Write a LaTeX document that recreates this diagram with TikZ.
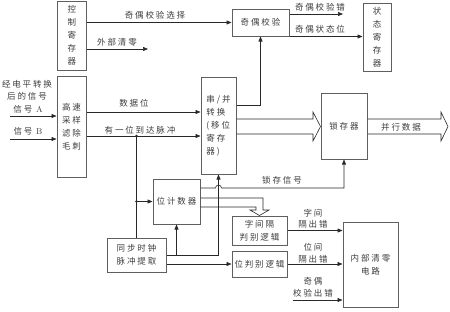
\documentclass[tikz,border=0pt]{standalone}
\usepackage{fontspec}
\newfontfamily\cjk[LetterSpace=22]{Noto Sans CJK SC}
\usepackage{tikz}
\usetikzlibrary{arrows.meta, calc}
\definecolor{boxgray}{RGB}{95, 95, 95}
\definecolor{linegray}{RGB}{40, 40, 40}
\definecolor{textgray}{RGB}{60, 60, 60}
\tikzset{
    blockbox/.style={draw=boxgray, line width=1pt, inner sep=0pt, align=center,
        text=textgray, font=\cjk\fontsize{8.5}{13}\selectfont},
    labeltext/.style={inner sep=0pt, align=center, text=textgray,
        font=\cjk\fontsize{8.5}{11.5}\selectfont},
    conn/.style={draw=linegray, line width=0.6pt},
    arr/.style={conn, -{Triangle[length=5pt,width=4pt]}},
    busline/.style={draw=linegray, line width=0.6pt, line join=miter},
}

\begin{document}
\begin{tikzpicture}[x=1pt, y=-1pt]
    \useasboundingbox (0,0) rectangle (450,311);

    % blocks
    \node[blockbox, minimum width=28.5pt, minimum height=69.5pt] (ctrl) at (71.75,35.75) {控\\制\\寄\\存\\器};
    \node[blockbox, minimum width=28pt, minimum height=68pt] (status) at (377,37) {状\\态\\寄\\存\\器};
    \node[blockbox, minimum width=57pt, minimum height=27pt] (parity) at (260.5,22.5) {奇偶校验};
    \node[blockbox, minimum width=29pt, minimum height=101pt] (filter) at (71.5,126.5) {高速\\采样\\滤除\\毛刺};
    \node[blockbox, minimum width=35pt, minimum height=97pt, align=left] (sp) at (218.5,125.5) {串/并\\转换\\(移位\\寄存\\器)};
    \node[blockbox, minimum width=46pt, minimum height=66pt] (latch) at (344,126) {锁存器};
    \node[blockbox, minimum width=47pt, minimum height=45pt] (counter) at (176.5,201.5) {位计数器};
    \node[blockbox, minimum width=59pt, minimum height=34pt] (sync) at (136.5,255) {同步时钟\\脉冲提取};
    \node[blockbox, minimum width=55pt, minimum height=29pt] (wordgap) at (259.5,230.5) {字间隔\\判别逻辑};
    \node[blockbox, minimum width=55pt, minimum height=26pt] (bitlogic) at (259.5,264) {位判别逻辑};
    \node[blockbox, minimum width=55pt, minimum height=85pt] (clear) at (370.5,264.5) {内部清零\\电路};

    % free ends
    \coordinate (ina) at (10,116);
    \coordinate (inb) at (10,139);
    \coordinate (extclr) at (148,49);
    \coordinate (perr) at (343,14);
    \coordinate (pchk) at (293,300);

    % top part
    \draw[arr] (ctrl.east |- parity.west) -- (parity.west);
    \draw[arr] (ctrl.east |- extclr) -- (extclr);
    \draw[arr] (parity.east |- perr) -- (perr);
    \draw[arr] (parity.south east) -- (parity.south east -| status.west);
    \draw[arr] (sp.east |- 0,105) -- (parity.south |- 0,105) -- (parity.south);

    % inputs
    \draw[arr] (ina) -- (ina -| filter.west);
    \draw[arr] (inb) -- (inb -| filter.west);
    \draw[arr] (filter.east |- 0,112) -- (sp.west |- 0,112);
    \draw[arr] (filter.east |- 0,136) -- (sp.west |- 0,136);

    % clock
    \draw[conn] (sync.north) -- (sync.north |- 0,136);
    \fill[linegray] (sync.north |- 0,136) circle[radius=1.4pt];
    \fill[linegray] (sync.north |- counter.west) circle[radius=1.4pt];
    \draw[arr] (sync.north |- counter.west) -- (counter.west);
    \draw[arr] (sync.east |- 0,255) -- (sp.south |- 0,255) -- (sp.south);
    \draw[arr] (counter.south |- 0,255) -- (counter.south);
    \draw[arr] (sync.east |- bitlogic.west) -- (bitlogic.west);

    % latch signal, hopping over the riser
    \draw[arr] (counter.east |- 0,188) -- ($(sp.south |- 0,188)+(-3,0)$)
        arc[start angle=180, end angle=0, radius=3pt]
        -- (latch.south |- 0,188) -- (latch.south);

    % buses
    \draw[busline] (sp.east |- 0,119) -- (313,119) -- (313,112) -- (latch.west |- 0,126.5)
        -- (313,141) -- (313,134) -- (sp.east |- 0,134);
    \draw[busline] (latch.east |- 0,119) -- (441,119) -- (441,112) -- (448,126.5)
        -- (441,141) -- (441,134) -- (latch.east |- 0,134);
    \draw[busline] (counter.east |- 0,198) -- (263,198) -- (263,210) -- (269,210) -- (wordgap.north)
        -- (250,210) -- (256,210) -- (256,207) -- (counter.east |- 0,207);

    % to clear circuit
    \draw[arr] (wordgap.east) -- (wordgap.east -| clear.west);
    \draw[arr] (bitlogic.east) -- (bitlogic.east -| clear.west);
    \draw[arr] (pchk) -- (pchk -| clear.west);

    % labels
    \node[labeltext] (lblpsel) at (155,15) {奇偶校验选择};
    \node[labeltext] (lblext) at (117,42) {外部清零};
    \node[labeltext] (lblperr) at (320,7) {奇偶校验错};
    \node[labeltext] (lblpst) at (320,29) {奇偶状态位};
    \node[labeltext, font=\cjk\fontsize{8.5}{12}\selectfont] (lblsrc) at (27,90) {经电平转换\\后的信号};
    \node[labeltext] (lblsa) at (28,109) {信号 {\rmfamily A}};
    \node[labeltext] (lblsb) at (28,131) {信号 {\rmfamily B}};
    \node[labeltext] (lbldata) at (134,103) {数据位};
    \node[labeltext] (lblbit) at (140,130) {有一位到达脉冲};
    \node[labeltext] (lbllatch) at (282,180) {锁存信号};
    \node[labeltext] (lblpar) at (401,127) {并行数据};
    \node[labeltext] (lblwg) at (313,218.5) {字间\\隔出错};
    \node[labeltext] (lblbg) at (313,253) {位间\\隔出错};
    \node[labeltext] (lblpc) at (313,287.5) {奇偶\\校验出错};
\end{tikzpicture}
\end{document}
